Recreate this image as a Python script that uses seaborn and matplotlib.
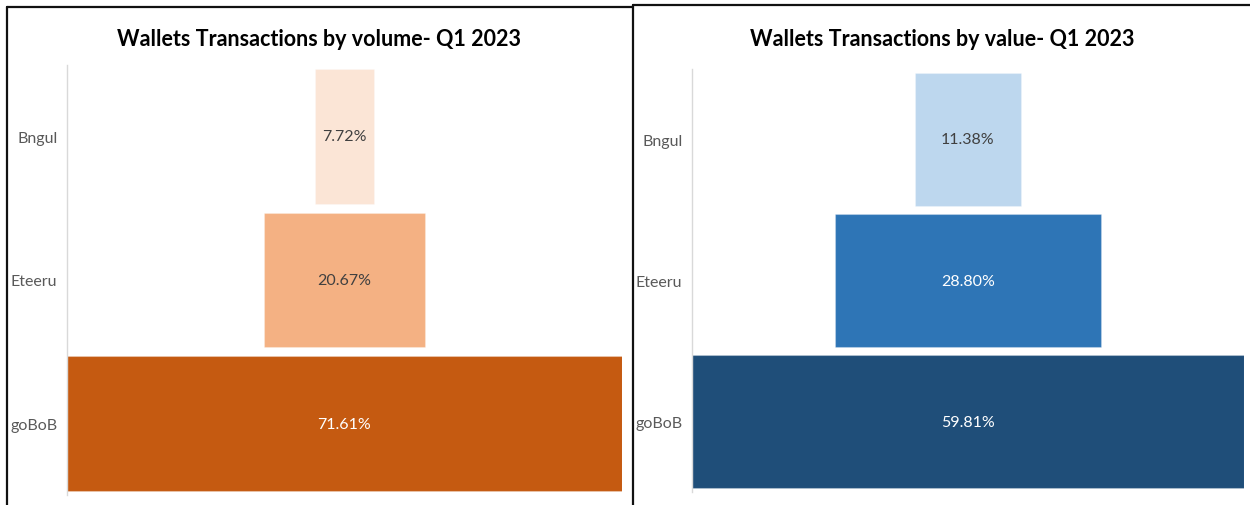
import matplotlib
matplotlib.use("Agg")
import matplotlib.pyplot as plt
from matplotlib.lines import Line2D
import seaborn as sns
import pandas as pd

categories = ["Bngul", "Eteeru", "goBoB"]
volume_pct = [7.72, 20.67, 71.61]
value_pct = [11.38, 28.80, 59.81]
volume_colors = ["#FBE5D6", "#F4B183", "#C55A11"]
value_colors = ["#BDD7EE", "#2E75B6", "#1F4E79"]
volume_text = ["#404040", "#404040", "#FFFFFF"]
value_text = ["#404040", "#FFFFFF", "#FFFFFF"]
titles = ["Wallets Transactions by volume- Q1 2023", "Wallets Transactions by value- Q1 2023"]

sns.set_theme(style="white")
LABEL_FONT = ["Lato", "DejaVu Sans"]
TITLE_FONT = ["Lato", "DejaVu Sans"]

fig = plt.figure(figsize=(12.5, 5.06), dpi=100)
fig.patch.set_facecolor("white")

ax1 = fig.add_axes([67 / 1250, (506 - 496.3) / 506, 555 / 1250, (496.3 - 65.7) / 506])
ax2 = fig.add_axes([692 / 1250, (506 - 493.2) / 506, 552 / 1250, (493.2 - 69.8) / 506])


def funnel(ax, values, colors, tcolors, title, title_x):
    mx = max(values)
    df = pd.DataFrame({"cat": categories, "val": values})
    for cat, v, c, tc in zip(categories, values, colors, tcolors):
        pad = (mx - v) / 2
        sub = df[df["cat"] == cat]
        sns.barplot(data=sub, x="val", y="cat", order=categories, left=pad,
                    color=c, saturation=1, width=0.94, ax=ax,
                    edgecolor=(1, 1, 1, 0.25), linewidth=0.8)
    for i, (v, tc) in enumerate(zip(values, tcolors)):
        ax.text(mx / 2, i, f"{v:.2f}%", ha="center", va="center", color=tc,
                fontsize=11.5, family=LABEL_FONT)
    ax.set_xlim(0, mx)
    ax.set_ylim(2.5, -0.5)
    ax.set_xlabel("")
    ax.set_ylabel("")
    ax.set_xticks([])
    for s in ["top", "right", "bottom"]:
        ax.spines[s].set_visible(False)
    ax.spines["left"].set_color("#D9D9D9")
    ax.spines["left"].set_linewidth(1)
    ax.tick_params(axis="y", length=0, pad=7)
    for lab in ax.get_yticklabels():
        lab.set_family(LABEL_FONT)
        lab.set_fontsize(11.5)
        lab.set_color("#595959")
    fig.text(title_x, 1 - 40 / 506, title, ha="center", va="center",
             fontsize=15.5, fontweight="bold", family=TITLE_FONT, color="#000000")


funnel(ax1, volume_pct, volume_colors, volume_text, titles[0], 319 / 1250)
funnel(ax2, value_pct, value_colors, value_text, titles[1], 942 / 1250)

# panel borders
def fline(x0, y0, x1, y1):
    fig.add_artist(Line2D([x0 / 1250, x1 / 1250], [1 - y0 / 506, 1 - y1 / 506],
                          color="#111111", linewidth=1.6, transform=fig.transFigure))

fline(7, 8, 633, 8)
fline(7, 8, 7, 506)
fline(633, 6, 633, 506)
fline(633, 6, 1250, 6)

fig.savefig("out.png", dpi=100, facecolor="white")
